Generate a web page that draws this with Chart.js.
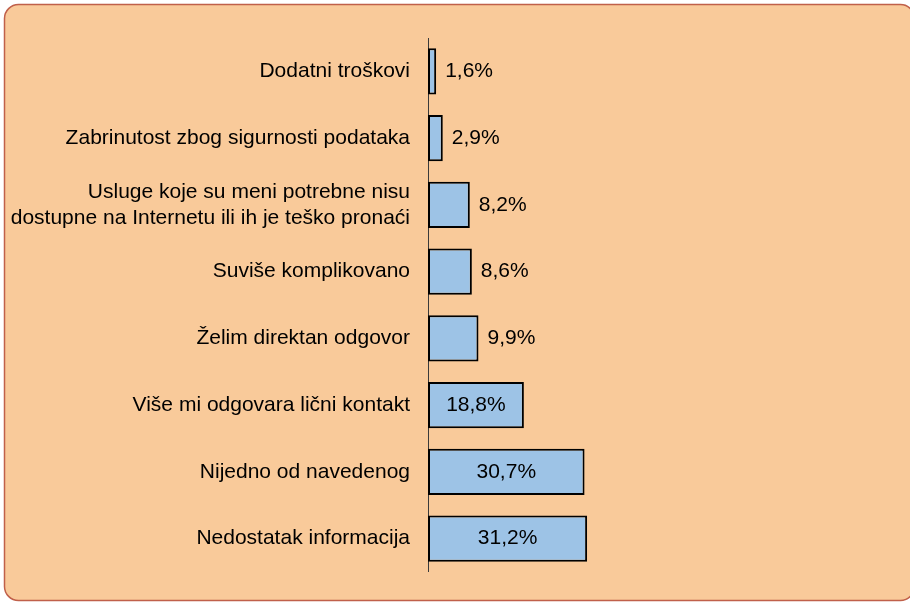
<!DOCTYPE html>
<html>
<head>
<meta charset="utf-8">
<script src="https://cdn.jsdelivr.net/npm/chart.js@4"></script>
<style>
  html, body { margin: 0; padding: 0; background: #ffffff; }
  #wrap { width: 910px; height: 603px; }
</style>
</head>
<body>
<div id="wrap"><canvas id="myChart"></canvas></div>
<script>
const categories = [
    'Dodatni troškovi',
    'Zabrinutost zbog sigurnosti podataka',
    ['Usluge koje su meni potrebne nisu', 'dostupne na Internetu ili ih je teško pronaći'],
    'Suviše komplikovano',
    'Želim direktan odgovor',
    'Više mi odgovara lični kontakt',
    'Nijedno od navedenog',
    'Nedostatak informacija'
];
const shares = [1.6, 2.9, 8.2, 8.6, 9.9, 18.8, 30.7, 31.2];

function fmt(v) {
    return v.toFixed(1).replace('.', ',') + '%';
}

// peach rounded panel behind everything
const panel = {
    id: 'panel',
    beforeDraw(chart) {
        const c = chart.ctx;
        c.save();
        c.beginPath();
        c.roundRect(4.5, 4.5, 910, 596, 14);
        c.fillStyle = '#f9ca9a';
        c.fill();
        c.lineWidth = 1.5;
        c.strokeStyle = '#c0604a';
        c.stroke();
        c.restore();
    }
};

// value labels: outside for short bars, centred for long ones
const valueLabels = {
    id: 'valueLabels',
    afterDatasetsDraw(chart) {
        const c = chart.ctx;
        const meta = chart.getDatasetMeta(0);
        c.save();
        c.font = '21px "Liberation Sans", Arial, sans-serif';
        c.fillStyle = '#000000';
        c.textBaseline = 'middle';
        meta.data.forEach((bar, i) => {
            const v = shares[i];
            if (v < 10) {
                c.textAlign = 'left';
                c.fillText(fmt(v), bar.x + 9, bar.y);
            } else {
                c.textAlign = 'center';
                c.fillText(fmt(v), (bar.x + bar.base) / 2, bar.y);
            }
        });
        c.restore();
    }
};

var ctx = document.getElementById('myChart').getContext('2d');
var myChart = new Chart(ctx, {
    type: 'bar',
    data: {
        labels: categories,
        datasets: [{
            data: shares,
            backgroundColor: '#9dc3e6',
            borderColor: '#000000',
            borderWidth: 2,
            borderSkipped: false,
            barPercentage: 0.69,
            categoryPercentage: 1
        }]
    },
    options: {
        indexAxis: 'y',
        responsive: true,
        maintainAspectRatio: false,
        animation: false,
        layout: { padding: { left: 8, top: 38, right: 23, bottom: 28 } },
        plugins: {
            legend: { display: false },
            tooltip: { enabled: false }
        },
        scales: {
            x: {
                display: false,
                min: 0,
                max: 90
            },
            y: {
                grid: { display: false, drawTicks: false },
                border: { display: true, color: '#3a3a3a', width: 1 },
                ticks: {
                    color: '#000000',
                    padding: 18,
                    font: { family: '"Liberation Sans", Arial, sans-serif', size: 21, lineHeight: 1.24 }
                },
                afterFit(scale) { scale.width = 420; }
            }
        }
    },
    plugins: [panel, valueLabels]
});
</script>
</body>
</html>
